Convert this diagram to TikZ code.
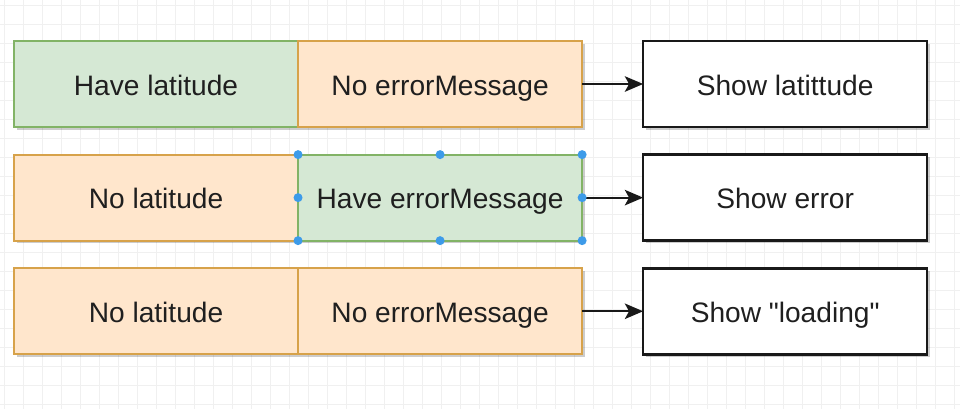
\documentclass[tikz,border=0pt]{standalone}
\usepackage{fontspec}
\setmainfont{Liberation Sans}[Ligatures=TeXOff]
\usetikzlibrary{positioning,arrows.meta,shadows}

\definecolor{havefill}{HTML}{D5E8D4}
\definecolor{haveline}{HTML}{82B366}
\definecolor{nofill}{HTML}{FFE6CC}
\definecolor{noline}{HTML}{D7A24A}
\definecolor{handleblue}{HTML}{3D9BE9}

\begin{document}
\begin{tikzpicture}[x=0.025cm, y=-0.025cm,
    gridline/.style={draw=black!6, line width=0.4pt},
    cell/.style={draw, line width=1.3pt, minimum width=7.1cm, minimum height=2.15cm,
      inner sep=0pt, outer sep=0pt, text=black!88, text height=16pt, text depth=0pt,
      font=\fontsize{20}{24}\selectfont,
      drop shadow={shadow xshift=2pt, shadow yshift=-2pt, opacity=0.2, fill=black}},
    have/.style={cell, fill=havefill, draw=haveline},
    none/.style={cell, fill=nofill, draw=noline},
    result/.style={cell, fill=white, draw=black!90, line width=1.8pt},
    link/.style={-{Stealth[length=13pt, width=11pt, inset=3pt]}, line width=1.5pt, black!90}]
    \fill[white] (0,0) rectangle (960,409);
    \useasboundingbox (0,0) rectangle (960,409);
    % background grid
    \foreach \gx in {4,23,...,960}
      \draw[gridline] (\gx,0) -- (\gx,409);
    \foreach \gy in {5,24,...,409}
      \draw[gridline] (0,\gy) -- (960,\gy);

    % first row
    \node[have] (lat1) at (156,84) {Have latitude};
    \node[none, right=0pt of lat1] (err1) {No errorMessage};
    \node[result, right=1.525cm of err1] (show1) {Show latittude};
    % second row
    \node[none, below=0.69cm of lat1] (lat2) {No latitude};
    \node[have, right=0pt of lat2] (err2) {Have errorMessage};
    \node[result, right=1.525cm of err2] (show2) {Show error};
    % third row
    \node[none, below=0.69cm of lat2] (lat3) {No latitude};
    \node[none, right=0pt of lat3] (err3) {No errorMessage};
    \node[result, right=1.525cm of err3] (show3) {Show "loading"};

    \draw[link] (err1) -- (show1);
    \draw[link] (err2) -- (show2);
    \draw[link] (err3) -- (show3);

    % selection handles
    \foreach \a in {north west,north,north east,east,south east,south,south west,west}
      \fill[handleblue] (err2.\a) circle (3.2pt);
\end{tikzpicture}
\end{document}
